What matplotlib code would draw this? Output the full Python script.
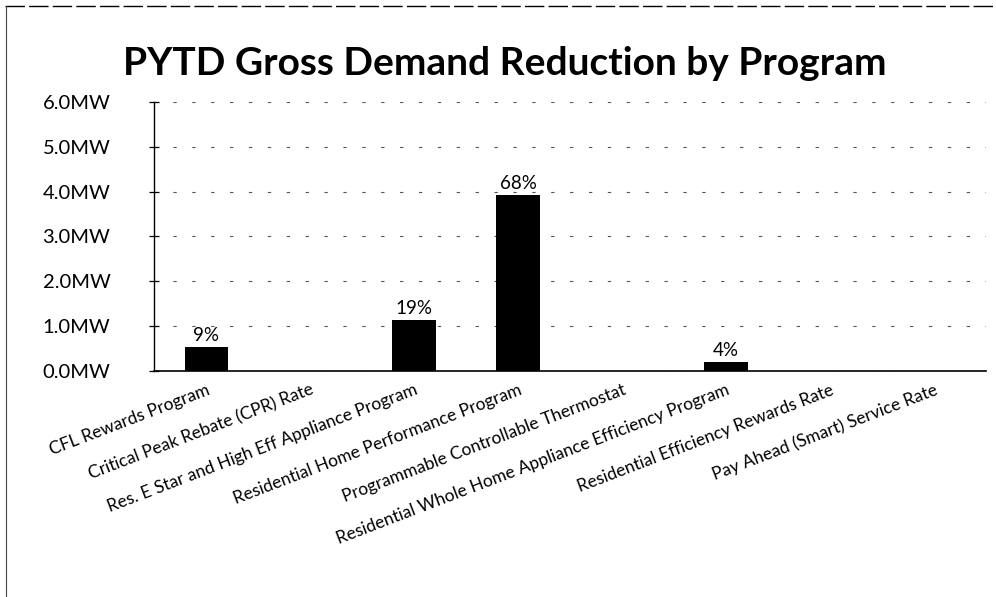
import matplotlib.pyplot as plt
import matplotlib.ticker as ticker
from matplotlib.lines import Line2D
import numpy as np

# Programs and their year-to-date gross demand reduction (MW)
PROGRAMS = [
    'CFL Rewards Program',
    'Critical Peak Rebate (CPR) Rate',
    'Res. E Star and High Eff Appliance Program',
    'Residential Home Performance Program',
    'Programmable Controllable Thermostat',
    'Residential Whole Home Appliance Efficiency Program',
    'Residential Efficiency Rewards Rate',
    'Pay Ahead (Smart) Service Rate',
]
DEMAND_MW = [0.53, 0.0, 1.13, 3.93, 0.0, 0.20, 0.0, 0.0]
SHARE_LABELS = ['9%', '', '19%', '68%', '', '4%', '', '']

plt.rcParams['font.family'] = ['Lato', 'DejaVu Sans']

fig = plt.figure(figsize=(9.96, 5.97), dpi=100)
ax = fig.add_axes([0.155, 0.379, 0.835, 0.450])

x = np.arange(len(PROGRAMS))
bars = ax.bar(x, DEMAND_MW, width=0.42, color='black', zorder=3)

for rect, lab in zip(bars, SHARE_LABELS):
    if lab:
        ax.text(rect.get_x() + rect.get_width() / 2, rect.get_height() + 0.06, lab,
                ha='center', va='bottom', fontsize=13.5, zorder=4)

ax.set_xlim(-0.5, len(PROGRAMS) - 0.5)
ax.set_ylim(0, 6)
ax.yaxis.set_major_locator(ticker.MultipleLocator(1.0))
ax.yaxis.set_major_formatter(ticker.StrMethodFormatter('{x:.1f}MW'))
# left-aligned tick labels, pushed out to the page margin
ax.tick_params(axis='y', labelsize=14.5, direction='inout', length=7, width=0.9, pad=77)
for lbl in ax.get_yticklabels():
    lbl.set_horizontalalignment('left')

ax.set_xticks(x)
ax.set_xticklabels(PROGRAMS, rotation=21, ha='right', rotation_mode='anchor', fontsize=12.5)
ax.tick_params(axis='x', length=0, pad=8)

# faint broken gridlines
ax.grid(axis='y', color='#555555', linewidth=0.8, linestyle=(0, (3, 14)), zorder=0)

for side in ['top', 'right']:
    ax.spines[side].set_visible(False)
ax.spines['left'].set_linewidth(1.0)
ax.spines['bottom'].set_linewidth(1.2)

fig.text(0.507, 0.893, 'PYTD Gross Demand Reduction by Program',
         ha='center', va='center', fontsize=28, fontweight='bold')

# page frame around the chart
fig.add_artist(Line2D([0.005, 1.0], [0.99, 0.99], transform=fig.transFigure,
                      color='black', linewidth=1.0, linestyle=(0, (14, 3))))
fig.add_artist(Line2D([0.006, 0.006], [0.0, 0.99], transform=fig.transFigure,
                      color='#444444', linewidth=0.8))

fig.savefig('out.png', dpi=100)
